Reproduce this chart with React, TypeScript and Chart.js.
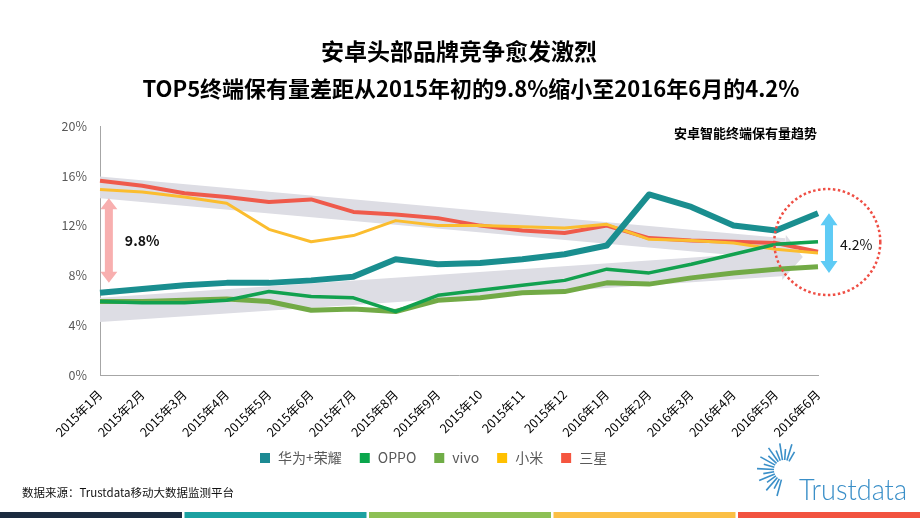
import React, { useEffect, useRef } from 'react';
import { Chart, registerables } from 'chart.js';

Chart.register(...registerables);

const FONT = '"Noto Sans CJK SC", "Microsoft YaHei", sans-serif';

// ---- data ----
const months = [
  '2015年1月', '2015年2月', '2015年3月', '2015年4月', '2015年5月', '2015年6月',
  '2015年7月', '2015年8月', '2015年9月', '2015年10', '2015年11', '2015年12',
  '2016年1月', '2016年2月', '2016年3月', '2016年4月', '2016年5月', '2016年6月',
];
const seriesNames = ['华为+荣耀', 'OPPO', 'vivo', '小米', '三星'];
const huawei = [6.6, 6.9, 7.2, 7.4, 7.4, 7.6, 7.9, 9.3, 8.9, 9.0, 9.3, 9.7, 10.4, 14.5, 13.5, 12.0, 11.6, 13.0];
const oppo = [5.9, 5.8, 5.8, 6.0, 6.7, 6.3, 6.2, 5.1, 6.4, 6.8, 7.2, 7.6, 8.5, 8.2, 8.9, 9.7, 10.5, 10.7];
const vivo = [5.9, 5.9, 6.0, 6.1, 5.9, 5.2, 5.3, 5.1, 6.0, 6.2, 6.6, 6.7, 7.4, 7.3, 7.8, 8.2, 8.5, 8.7];
const xiaomi = [14.9, 14.7, 14.3, 13.8, 11.7, 10.7, 11.2, 12.4, 12.0, 12.0, 11.9, 11.8, 12.1, 10.9, 10.8, 10.6, 10.1, 9.8];
const samsung = [15.6, 15.2, 14.6, 14.3, 13.9, 14.1, 13.1, 12.9, 12.6, 12.0, 11.6, 11.4, 12.0, 11.0, 10.8, 10.7, 10.6, 9.9];

const yMin = 0;
const yMax = 20;
const yStep = 4;

// trend bands: [startUpper, startLower, endUpper, endLower] (value %), band end at category index
const trendTop = [15.94, 14.2, 10.98, 9.26];
const trendBottom = [6.2, 4.25, 9.94, 7.95];
const trendEndIndex = 16.22;
// arrow head of trend: [index, value] triples
const trendHead = [[16.24, 11.24], [16.64, 9.48], [16.15, 7.63]];

// gap annotations: [index, topValue, bottomValue]
const gapStart = [0.21, 14.2, 7.4];
const gapStartLabel = '9.8%';
const gapEnd = [17.26, 13.0, 8.2];
const gapEndLabel = '4.2%';
const focusCircle = [17.22, 10.68];

const titleLines = ['安卓头部品牌竞争愈发激烈', 'TOP5终端保有量差距从2015年初的9.8%缩小至2016年6月的4.2%'];
const subTitle = '安卓智能终端保有量趋势';
const sourceNote = '数据来源：Trustdata移动大数据监测平台';
const logoText = 'Trustdata';

const colors = ['#1a8e8f', '#12a14f', '#72aa46', '#fbbd2f', '#ef5a4b'];
const legendColors = ['#1d8a93', '#0aa64c', '#70ad47', '#ffc000', '#f5553f'];
const widths = [6, 3.5, 5, 3, 4];
const barColors = ['#1c2b3f', '#1ba1a1', '#8dc055', '#fbbf45', '#f2533f'];

function doubleArrow(ctx: CanvasRenderingContext2D, cx: number, yTop: number, yBot: number, shaft: number, headW: number, headLen: number, color: string) {
  ctx.beginPath();
  ctx.moveTo(cx, yTop);
  ctx.lineTo(cx + headW / 2, yTop + headLen);
  ctx.lineTo(cx + shaft / 2, yTop + headLen);
  ctx.lineTo(cx + shaft / 2, yBot - headLen);
  ctx.lineTo(cx + headW / 2, yBot - headLen);
  ctx.lineTo(cx, yBot);
  ctx.lineTo(cx - headW / 2, yBot - headLen);
  ctx.lineTo(cx - shaft / 2, yBot - headLen);
  ctx.lineTo(cx - shaft / 2, yTop + headLen);
  ctx.lineTo(cx - headW / 2, yTop + headLen);
  ctx.closePath();
  ctx.fillStyle = color;
  ctx.fill();
}

const decorPlugin = {
  id: 'decor',
  beforeDatasetsDraw(chart: any) {
    const { ctx, scales } = chart;
    const X = (i: number) => scales.x.getPixelForValue(i);
    const Y = (v: number) => scales.y.getPixelForValue(v);
    ctx.save();
    ctx.fillStyle = '#dddde4';
    [trendTop, trendBottom].forEach((b) => {
      ctx.beginPath();
      ctx.moveTo(X(0), Y(b[0]));
      ctx.lineTo(X(trendEndIndex), Y(b[2]));
      ctx.lineTo(X(trendEndIndex), Y(b[3]));
      ctx.lineTo(X(0), Y(b[1]));
      ctx.closePath();
      ctx.fill();
    });
    ctx.beginPath();
    trendHead.forEach((p, k) => {
      if (k === 0) ctx.moveTo(X(p[0]), Y(p[1]));
      else ctx.lineTo(X(p[0]), Y(p[1]));
    });
    ctx.closePath();
    ctx.fill();
    ctx.restore();
  },
  afterDatasetsDraw(chart: any) {
    const { ctx, scales } = chart;
    const X = (i: number) => scales.x.getPixelForValue(i);
    const Y = (v: number) => scales.y.getPixelForValue(v);
    ctx.save();
    // start gap arrow
    doubleArrow(ctx, X(gapStart[0]), Y(gapStart[1]), Y(gapStart[2]), 8, 17, 11, '#f8afaf');
    ctx.fillStyle = '#111';
    ctx.font = `bold 14px ${FONT}`;
    ctx.textAlign = 'left';
    ctx.textBaseline = 'middle';
    ctx.fillText(gapStartLabel, X(gapStart[0]) + 16, (Y(gapStart[1]) + Y(gapStart[2])) / 2);
    // end gap arrow
    doubleArrow(ctx, X(gapEnd[0]), Y(gapEnd[1]), Y(gapEnd[2]), 8, 17, 12, '#5ecbf5');
    ctx.fillStyle = '#111';
    ctx.font = `14px ${FONT}`;
    ctx.fillText(gapEndLabel, X(gapEnd[0]) + 11, (Y(gapEnd[1]) + Y(gapEnd[2])) / 2 + 2);
    // dotted circle
    ctx.beginPath();
    ctx.arc(X(focusCircle[0]), Y(focusCircle[1]), 53, 0, Math.PI * 2);
    ctx.setLineDash([2.5, 2.5]);
    ctx.lineWidth = 2.5;
    ctx.strokeStyle = '#ef4f45';
    ctx.stroke();
    ctx.setLineDash([]);
    ctx.restore();
  },
  afterDraw(chart: any) {
    const { ctx } = chart;
    ctx.save();
    // titles
    ctx.fillStyle = '#000';
    ctx.textAlign = 'center';
    ctx.textBaseline = 'middle';
    ctx.font = `bold 23px ${FONT}`;
    ctx.fillText(titleLines[0], 459, 51);
    ctx.font = `bold 22px ${FONT}`;
    ctx.fillText(titleLines[1], 471, 89);
    // subtitle
    ctx.font = `bold 13px ${FONT}`;
    ctx.textAlign = 'right';
    ctx.fillText(subTitle, 817, 133);
    // legend
    ctx.textAlign = 'left';
    ctx.font = `14px ${FONT}`;
    let lx = 260;
    const ly = 458;
    chart.data.datasets.forEach((ds: any, k: number) => {
      ctx.fillStyle = legendColors[k];
      ctx.fillRect(lx, ly - 5, 10, 10);
      ctx.fillStyle = '#595959';
      ctx.fillText(ds.label, lx + 18, ly);
      lx += 18 + ctx.measureText(ds.label).width + 18;
    });
    // source note
    ctx.fillStyle = '#111';
    ctx.font = `11.5px ${FONT}`;
    ctx.fillText(sourceNote, 22, 493);
    // logo rays
    ctx.strokeStyle = '#3a8fc8';
    ctx.lineWidth = 1.6;
    const cx = 784, cy = 470;
    let n = 0;
    for (let a = 105; a <= 305; a += 13) {
      const r = (a * Math.PI) / 180;
      const r0 = 10;
      const r1 = n % 2 === 0 ? 27 : 21;
      ctx.beginPath();
      ctx.moveTo(cx + Math.cos(r) * r0, cy + Math.sin(r) * r0);
      ctx.lineTo(cx + Math.cos(r) * r1, cy + Math.sin(r) * r1);
      ctx.stroke();
      n++;
    }
    // logo text
    ctx.fillStyle = '#3a8fc8';
    ctx.font = `300 29px Lato, ${FONT}`;
    ctx.textBaseline = 'alphabetic';
    const w = ctx.measureText(logoText).width;
    ctx.save();
    ctx.translate(799, 500);
    ctx.scale(108 / w, 1);
    ctx.fillText(logoText, 0, 0);
    ctx.restore();
    // bottom colour bars
    const segW = 182;
    barColors.forEach((c, k) => {
      ctx.fillStyle = c;
      ctx.fillRect(k * 184.5, 512, segW, 6);
    });
    ctx.restore();
  },
};

export default function App() {
  const ref = useRef<HTMLCanvasElement | null>(null);
  useEffect(() => {
    if (!ref.current) return;
    const all = [huawei, oppo, vivo, xiaomi, samsung];
    const chart = new Chart(ref.current, {
      type: 'line',
      data: {
        labels: months,
        datasets: all.map((d, k) => ({
          label: seriesNames[k],
          data: d,
          borderColor: colors[k],
          backgroundColor: colors[k],
          borderWidth: widths[k],
          pointRadius: 0,
          tension: 0,
          fill: false,
          borderJoinStyle: 'round' as const,
        })),
      },
      options: {
        animation: false,
        responsive: false,
        devicePixelRatio: 1,
        layout: { padding: { left: 0, right: 102, top: 126, bottom: 0 } },
        plugins: {
          legend: { display: false },
          title: { display: false },
          tooltip: { enabled: false },
        },
        scales: {
          x: {
            type: 'category',
            offset: false,
            grid: { display: false, drawTicks: false },
            border: { display: true, color: '#a6a6a6', dash: [3, 2], width: 1 },
            ticks: {
              autoSkip: false,
              maxRotation: 45,
              minRotation: 45,
              color: '#000',
              font: { family: FONT, size: 12.5 },
              padding: 12,
            },
            afterFit: (s: any) => { s.height = 143; },
          },
          y: {
            min: yMin,
            max: yMax,
            grid: { display: false, drawTicks: false },
            border: { display: true, color: '#a6a6a6', dash: [3, 2], width: 1 },
            ticks: {
              stepSize: yStep,
              color: '#595959',
              font: { family: FONT, size: 12.5 },
              padding: 13,
              callback: (v: any) => `${v}%`,
            },
            afterFit: (s: any) => { s.width = 100; },
          },
        },
      },
      plugins: [decorPlugin],
    });
    return () => chart.destroy();
  }, []);

  return (
    <div style={{ position: 'fixed', left: 0, top: 0, width: 920, height: 518, background: '#fff' }}>
      <canvas ref={ref} width={920} height={518} style={{ width: 920, height: 518, display: 'block' }} />
    </div>
  );
}
